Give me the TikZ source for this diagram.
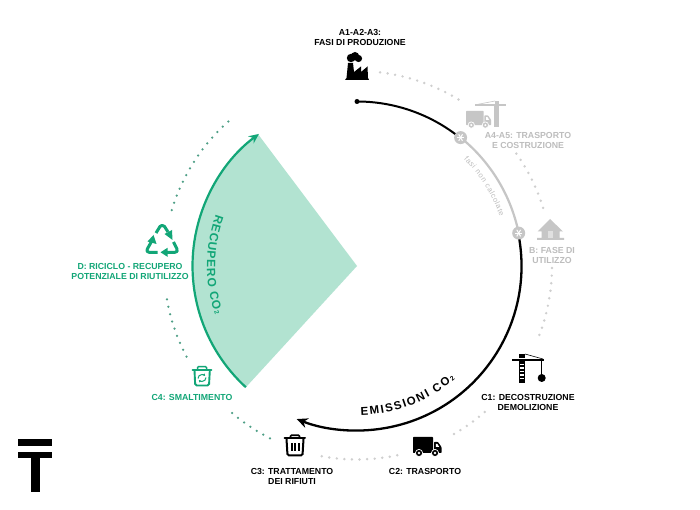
\documentclass[tikz,border=0pt]{standalone}
\usepackage{fontspec}
\setmainfont{Liberation Sans}
\usetikzlibrary{arrows.meta,decorations.text,calc}
\definecolor{grn}{HTML}{12A677}
\definecolor{grnfill}{HTML}{B2E3D1}
\definecolor{grnDot}{HTML}{4E9F86}
\definecolor{pale}{HTML}{C6C6C6}
\definecolor{paleDot}{HTML}{CFCFCF}
\definecolor{paleText}{HTML}{BDBDBD}
\newcommand{\ringarc}[4]{\draw[#1] ([shift={(#2:#4)}]c) arc[start angle=#2,end angle=#3,radius=#4];}
\newcommand{\truckicon}[4]{%
 \begin{scope}[shift={(#1,#2)},scale=#3]
  \fill[#4,rounded corners=0.6] (0,0) rectangle (20,16);
  \fill[#4,rounded corners=0.6] (21,5) -- (25,5) -- (28.5,10) -- (28.5,16) -- (21,16) -- cycle;
  \fill[white] (22.8,7) -- (24.4,7) -- (26.2,10) -- (22.8,10) -- cycle;
  \foreach \wx in {6,22}{\fill[#4,draw=white,line width=0.7pt] (\wx,16) circle (3.6);\fill[white] (\wx,16) circle (1.3);}
 \end{scope}}
\tikzset{
 x=1pt,y=1pt,
 lab/.style={font=\bfseries\fontsize{8.75}{10}\selectfont,align=center,inner sep=0pt,text=black},
 labg/.style={lab,text=grn},
 labp/.style={lab,text=paleText},
 dotp/.style={draw=paleDot,line width=2.7pt,line cap=round,dash pattern=on 0pt off 7.6pt},
 dotg/.style={draw=grnDot,line width=2.5pt,line cap=round,dash pattern=on 0pt off 7.6pt},
 hub/.style={circle,fill=pale,minimum size=13pt,inner sep=0pt,
  path picture={\foreach \ang in {0,60,120}{\draw[white,line width=1pt] ($(path picture bounding box.center)+(\ang:3.8)$) -- ($(path picture bounding box.center)+(\ang+180:3.8)$);}}},
}
\begin{document}
\begin{tikzpicture}
\useasboundingbox (0,0) rectangle (700,510);
\fill[white] (0,0) rectangle (700,510);
\coordinate (c) at (357,244);

% sector and green arc
\fill[grnfill] (c) -- ([shift={(227.5:164.5)}]c) arc[start angle=227.5,end angle=126.9,radius=164.5] -- cycle;
\ringarc{grn,line width=2.2pt,-{Stealth[length=10pt,width=9pt]}}{227.5}{126.6}{164.5}

% main arcs, then the hubs over them
\node[circle,fill=black,minimum size=5pt,inner sep=0pt] (start) at ([shift={(90:164.5)}]c) {};
\ringarc{pale,line width=2.2pt}{51.1}{11.5}{165}
\draw[black,line width=2pt] (start.center) arc[start angle=90,end angle=51.1,radius=164.5];
\ringarc{black,line width=2.3pt,-{Stealth[length=11pt,width=10pt]}}{10}{-111.5}{164.5}
\node[hub] (h1) at ([shift={(51.1:165)}]c) {};
\node[hub] (h2) at ([shift={(11.5:165)}]c) {};

% dotted ring
\ringarc{dotp}{83.2}{57.6}{195}
\ringarc{dotp}{35.2}{16.9}{195}
\ringarc{dotp}{-0.6}{-22}{195}
\ringarc{dotp}{-48.8}{-60.3}{194}
\ringarc{dotp}{-78}{-101}{193.5}
\ringarc{dotg}{243.2}{229.4}{193}
\ringarc{dotg}{208}{189.6}{193}
\ringarc{dotg}{163.2}{131.2}{193.5}

% text along arcs
\path[decorate,decoration={text along path,text align={fit to path},
  text={|\bfseries\fontsize{11.5}{12}\selectfont|EMISSIONI CO|\bfseries\fontsize{6.5}{7}\selectfont|2||}}]
  ([shift={(-88.5:149.5)}]c) arc[start angle=-88.5,end angle=-49,radius=149.5];
\path[decorate,decoration={text along path,text align={fit to path},
  text={|\bfseries\fontsize{12}{13}\selectfont\color{grn}|RECUPERO CO|\bfseries\fontsize{6.5}{7}\selectfont\color{grn}|2||}}]
  ([shift={(160:150)}]c) arc[start angle=160,end angle=199,radius=150];
\path[decorate,decoration={text along path,text align={fit to path},
  text={|\fontsize{7.5}{8}\selectfont\color{paleText}|fasi non calcolate||}}]
  ([shift={(45:151)}]c) arc[start angle=45,end angle=19,radius=151];

% labels
\node[lab] (a1) at (360,473) {A1-A2-A3:\\FASI DI PRODUZIONE};
\node[labp] (a4) at (528,370) {A4-A5: TRASPORTO\\E COSTRUZIONE};
\node[labp] (b) at (552,255) {B: FASE DI\\UTILIZZO};
\node[lab] (c1) at (528,108) {C1: DECOSTRUZIONE\\DEMOLIZIONE};
\node[lab] (c2) at (425,39) {C2: TRASPORTO};
\node[lab] (c3) at (292,34) {C3: TRATTAMENTO\\DEI RIFIUTI};
\node[labg] (c4) at (192,113) {C4: SMALTIMENTO};
\node[labg] (d) at (130,239) {D: RICICLO - RECUPERO\\POTENZIALE DI RIUTILIZZO};

% icons, written in the reference's pixel coordinates
\begin{scope}[shift={(0,510)},yscale=-1]
 % logo
 \fill[black] (18,439) rectangle (52,446);
 \fill[black] (18,452) rectangle (52,458.5);
 \fill[black] (31,458) rectangle (40,492);
 % factory
 \fill[black] (351,58) circle (4.2) (355,56.2) circle (4.2) (358.5,58.5) circle (3.6);
 \fill[black] (348,63) -- (353,63) -- (354,72) -- (361,66.5) -- (361,72) -- (367.5,66.5) -- (368,78) -- (369,80) -- (345,80) -- (346.5,78) -- cycle;
 % grey truck and crane
 \truckicon{466}{111}{0.88}{pale}
 \fill[pale] (494,105) rectangle (499,127);
 \fill[pale] (475,104.5) rectangle (506,106.5);
 \fill[pale] (494.5,101) rectangle (499,104.5);
 \draw[pale,line width=0.6pt] (477,104.5) -- (495,101);
 % house
 \fill[pale] (550,219) -- (563,231.5) -- (559.5,231.5) -- (559.5,238) -- (564,238) -- (564,240) -- (537,240) -- (537,238) -- (541.5,238) -- (541.5,231.5) -- (537.5,231.5) -- cycle;
 \fill[pale!55] (547.5,231) rectangle (553,238);
 % black crane
 \fill[black] (512,359) rectangle (544,361.5);
 \fill[black] (519,354) rectangle (525,358);
 \draw[black,line width=0.6pt] (525,354) -- (543,359);
 \fill[black] (519,361) rectangle (525,383);
 \foreach \ty in {364,367.5,...,381}{\fill[white] (520.4,\ty) rectangle (523.6,\ty+1.3);}
 \draw[black,line width=0.8pt] (541.7,361) -- (541.7,375);
 \fill[black] (541.7,378) circle (4);
 % black truck
 \truckicon{413}{437}{1}{black}
 % black bin
 \draw[black,line width=2pt,rounded corners=1.5] (286.5,439) -- (287.5,455.5) -- (302.5,455.5) -- (303.5,439);
 \draw[black,line width=2pt,line cap=round] (284.5,438.5) -- (305,438.5);
 \draw[black,line width=1.6pt,rounded corners=1] (290.5,438.5) -- (290.5,435.3) -- (299.5,435.3) -- (299.5,438.5);
 \foreach \bx in {291.5,295,298.5}{\fill[black] (\bx-1,443) rectangle (\bx+1,451.5);}
 % green bin
 \draw[grn,line width=1.9pt,rounded corners=1.5] (194.5,370.5) -- (195.2,385.5) -- (209,385.5) -- (209.8,370.5);
 \draw[grn,line width=1.9pt,line cap=round] (192.5,370.2) -- (211.5,370.2);
 \draw[grn,line width=1.5pt,rounded corners=1] (197.5,370) -- (197.5,366.6) -- (206.5,366.6) -- (206.5,370);
 \draw[grn,line width=1pt,-{Stealth[length=2.2pt,width=2.8pt]}] (198,378.5) arc[start angle=180,end angle=320,radius=4];
 \draw[grn,line width=1pt,-{Stealth[length=2.2pt,width=2.8pt]}] (206,377.5) arc[start angle=0,end angle=140,radius=4];
 % recycling sign
 \begin{scope}[grn,line width=3pt,line join=round]
  \draw (156,233) -- (160,226.5) .. controls (161,225) and (163,225) .. (164.5,226.5) -- (168,232);
  \fill (164.5,234) -- (172,230) -- (172.5,240) -- cycle;
  \draw (173.5,242) -- (176.8,248.5) .. controls (178,251) and (177,252.3) .. (175,252.3) -- (167,252.3);
  \fill (167.5,247.8) -- (160.5,252.3) -- (167.5,256.8) -- cycle;
  \draw (157.5,252.3) -- (149,252.3) .. controls (147,252.3) and (146.3,250.5) .. (147.3,249) -- (151.5,241.5);
  \fill (147.5,241.5) -- (153.5,235) -- (156.5,244) -- cycle;
 \end{scope}
\end{scope}
\end{tikzpicture}
\end{document}
